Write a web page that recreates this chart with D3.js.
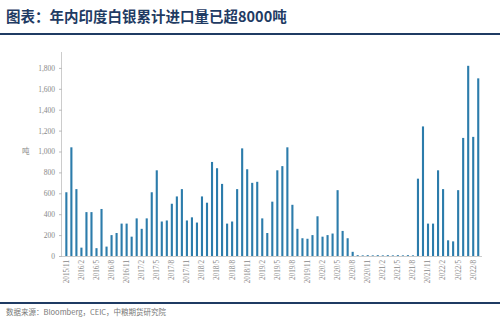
<!DOCTYPE html>
<html><head><meta charset="utf-8">
<script src="https://cdn.jsdelivr.net/npm/d3@7"></script>
<style>html,body{margin:0;padding:0;background:#fff;}svg{display:block;}</style>
</head><body>
<svg id="c" width="500" height="323"></svg>
<script>
const titleText = "图表：年内印度白银累计进口量已超8000吨";
const sourceText = "数据来源：Bloomberg，CEIC，中粮期货研究院";
const unitLabel = "吨";
const startYear = 2015, startMonth = 11;
const values = [
  610,1040,640,80,420,420,75,450,90,200,220,310,310,185,360,260,360,610,820,330,
  340,500,570,640,340,370,320,570,510,900,840,690,310,330,640,1030,830,700,710,360,
  220,520,820,860,1040,490,260,170,165,200,380,185,200,215,630,240,170,40,8,6,
  8,6,8,6,8,6,8,6,8,6,740,1240,310,310,820,640,150,140,630,1130,
  1820,1140,1700
];
const months = values.map((v,i)=>{const m=startMonth-1+i;return (startYear+Math.floor(m/12))+"/"+(m%12+1);});
const yTicks = [0,200,400,600,800,1000,1200,1400,1600,1800];

const svg = d3.select("#c");
const navy = "#1f3b63";
svg.append("text").attr("x",6).attr("y",22).attr("fill",navy)
  .attr("font-family","Noto Sans CJK SC").attr("font-weight","bold").attr("font-size",14.5).text(titleText);
svg.append("line").attr("x1",0).attr("x2",500).attr("y1",34).attr("y2",34).attr("stroke",navy).attr("stroke-width",2);
svg.append("line").attr("x1",0).attr("x2",500).attr("y1",303).attr("y2",303).attr("stroke",navy).attr("stroke-width",2);
svg.append("text").attr("x",6).attr("y",315).attr("fill","#777")
  .attr("font-family","Noto Sans CJK SC").attr("font-size",7.5).text(sourceText);

const x = d3.scaleBand().domain(months).range([64.8,479.8]).paddingInner(0.58).paddingOuter(0.1);
const y = d3.scaleLinear().domain([0,2000]).range([256,47]);

const gy = svg.append("g").attr("transform","translate(62,0)")
  .call(d3.axisLeft(y).tickValues(yTicks).tickFormat(d3.format(",")).tickSize(3).tickPadding(4));
gy.select(".domain").attr("stroke","#ccc").attr("d","M-0.5,256.5V52");
gy.selectAll(".tick line").attr("stroke","#bbb");
gy.selectAll(".tick text").attr("fill","#888").attr("font-family","Liberation Serif").attr("font-size",7.5);

svg.append("text").attr("x",22).attr("y",154).attr("fill","#888")
  .attr("font-family","Noto Sans CJK SC").attr("font-size",7.5).text(unitLabel);

svg.append("g").selectAll("rect").data(values).join("rect")
  .attr("x",(d,i)=>x(months[i])).attr("width",x.bandwidth())
  .attr("y",d=>y(d)).attr("height",d=>256-y(d)).attr("fill","#2c7cab");

const gx = svg.append("g").attr("transform","translate(0,256)")
  .call(d3.axisBottom(x).tickValues(months.filter((m,i)=>i%3===0)).tickSize(0).tickPadding(3));
gx.select(".domain").attr("stroke","#ccc").attr("d","M62,0.5H482");
gx.selectAll(".tick text").attr("fill","#888").attr("font-family","Liberation Serif").attr("font-size",7.2)
  .attr("transform","rotate(-90)").attr("text-anchor","end").attr("dx","-3").attr("dy","0.33em").attr("y",0).attr("x",-1);
</script>
</body></html>
